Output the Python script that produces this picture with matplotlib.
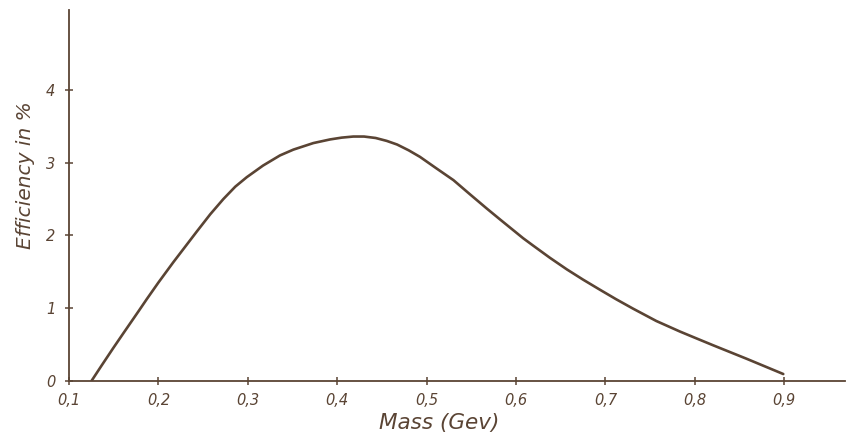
import matplotlib
matplotlib.use("Agg")
import matplotlib.pyplot as plt

# Data
mass = [0.1254, 0.1366, 0.1496, 0.1607, 0.1775, 0.1869, 0.2000, 0.2167, 0.2428, 0.2580,
        0.2727, 0.2860, 0.2988, 0.3170, 0.3360, 0.3510, 0.3733, 0.3920, 0.4050, 0.4180,
        0.4300, 0.4430, 0.4554, 0.4670, 0.4800, 0.4926, 0.5100, 0.5300, 0.5480, 0.5672,
        0.5820, 0.5970, 0.6080, 0.6190, 0.6380, 0.6570, 0.6750, 0.6940, 0.7120, 0.7310,
        0.7570, 0.7834, 0.8020, 0.8207, 0.8580, 0.8990]
efficiency = [0.00, 0.21, 0.45, 0.65, 0.95, 1.12, 1.35, 1.63, 2.05, 2.29,
              2.50, 2.67, 2.80, 2.96, 3.10, 3.18, 3.27, 3.32, 3.345, 3.36,
              3.36, 3.34, 3.30, 3.25, 3.17, 3.08, 2.93, 2.76, 2.57, 2.37,
              2.22, 2.07, 1.96, 1.86, 1.69, 1.53, 1.39, 1.25, 1.12, 0.99,
              0.82, 0.675, 0.58, 0.485, 0.30, 0.09]
x_ticks = [0.1, 0.2, 0.3, 0.4, 0.5, 0.6, 0.7, 0.8, 0.9]
x_ticklabels = ["0,1", "0,2", "0,3", "0,4", "0,5", "0,6", "0,7", "0,8", "0,9"]
y_ticks = [0, 1, 2, 3, 4]
y_ticklabels = ["0", "1", "2", "3", "4"]

ink = "#5a4434"

fig = plt.figure(figsize=(8.48, 4.42), dpi=100)
fig.patch.set_facecolor("white")
ax = fig.add_axes([0.0814, 0.139, 0.915, 0.838])
ax.plot(mass, efficiency, color=ink, lw=1.9, solid_capstyle="round", solid_joinstyle="round")

ax.set_xlim(0.1, 0.968)
ax.set_ylim(0, 5.1)
for s in ["top", "right"]:
    ax.spines[s].set_visible(False)
for s in ["left", "bottom"]:
    ax.spines[s].set_color(ink)
    ax.spines[s].set_linewidth(1.3)

ax.set_xticks(x_ticks)
ax.set_xticklabels(x_ticklabels)
ax.set_yticks(y_ticks)
ax.set_yticklabels(y_ticklabels)
ax.tick_params(axis="both", direction="inout", length=6, width=1.1, color=ink,
               labelcolor=ink, labelsize=10.5)
ax.tick_params(axis="x", pad=6)
ax.tick_params(axis="y", pad=7)
for lab in ax.get_xticklabels() + ax.get_yticklabels():
    lab.set_fontstyle("italic")

ax.set_xlabel("Mass (Gev)", color=ink, fontsize=15.5, fontstyle="italic")
ax.set_ylabel("Efficiency in %", color=ink, fontsize=14.5, fontstyle="italic")
ax.xaxis.set_label_coords(0.477, -0.088)
ax.yaxis.set_label_coords(-0.044, 0.554)

fig.savefig("out.png", dpi=100, facecolor="white")
